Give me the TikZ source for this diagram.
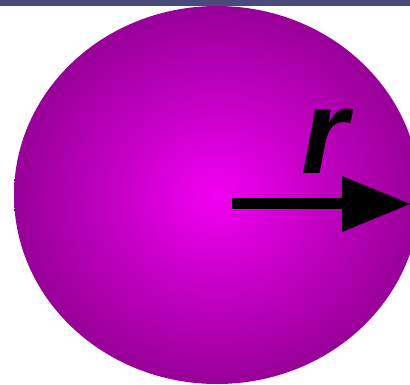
\documentclass[tikz,border=0pt]{standalone}
\usepackage{fontspec}
\setmainfont{Liberation Sans}
\definecolor{barblue}{RGB}{74,74,122}
\definecolor{ballin}{RGB}{242,0,242}
\definecolor{ballmid}{RGB}{196,0,196}
\definecolor{ballout}{RGB}{152,0,152}
\definecolor{ballfar}{RGB}{120,0,120}
\pgfdeclareradialshading{ball}{\pgfpoint{0bp}{0bp}}{color(0bp)=(ballin); color(12.5bp)=(ballmid); color(25bp)=(ballout); color(50bp)=(ballfar)}
\tikzset{
  radiuslabel/.style={font=\fontsize{120}{120}\selectfont\bfseries\itshape, inner sep=0pt, anchor=base},
  shaftline/.style={line width=11.5pt, draw=black},
}
\begin{document}
\begin{tikzpicture}[x=1pt,y=-1pt]
\useasboundingbox (0,0) rectangle (410,384);
\clip (0,0) rectangle (410,384);
\fill[white] (0,0) rectangle (410,384);
\shade[shading=ball] (217,195) ellipse [x radius=203, y radius=189];
\fill[barblue] (0,0) rectangle (410,5.5);
\coordinate (s) at (232,203.5);
\coordinate (b) at (343,203.5);
\draw[shaftline] (s) -- (b);
\fill[black] (342,176) -- (410,204) -- (342,232) -- cycle;
\node[radiuslabel] (r) at (325,173) {r};
\end{tikzpicture}
\end{document}
